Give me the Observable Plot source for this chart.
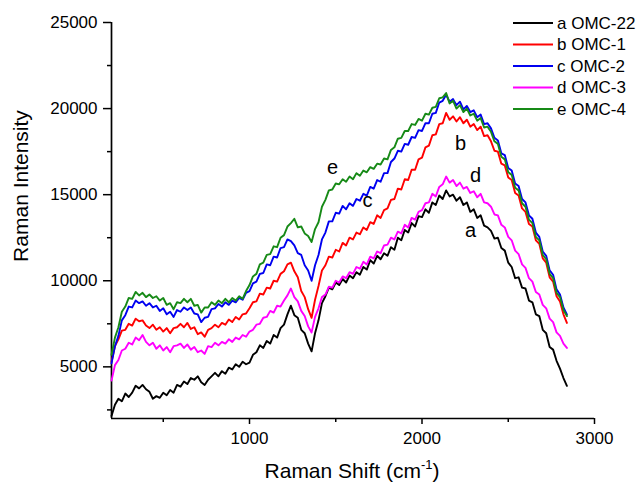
<!DOCTYPE html>
<html>
<head>
<meta charset="utf-8">
<script src="https://cdn.jsdelivr.net/npm/d3@7"></script>
<script src="https://cdn.jsdelivr.net/npm/@observablehq/plot@0.6"></script>
<style>
  html, body { margin: 0; padding: 0; background: #fff; }
  #chart svg { display: block; }
</style>
</head>
<body>
<div id="chart"></div>
<script>
// Raman shift grid (cm^-1)
const shift = [
  200,220,240,260,280,300,320,340,360,380,
  400,420,440,460,480,500,520,540,560,580,
  600,620,640,660,680,700,720,740,760,780,
  800,820,840,860,880,900,920,940,960,980,
  1000,1020,1040,1060,1080,1100,1120,1140,1160,1180,
  1200,1220,1240,1260,1280,1300,1320,1340,1360,1380,
  1400,1420,1440,1460,1480,1500,1520,1540,1560,1580,
  1600,1620,1640,1660,1680,1700,1720,1740,1760,1780,
  1800,1820,1840,1860,1880,1900,1920,1940,1960,1980,
  2000,2020,2040,2060,2080,2100,2120,2140,2160,2180,
  2200,2220,2240,2260,2280,2300,2320,2340,2360,2380,
  2400,2420,2440,2460,2480,2500,2520,2540,2560,2580,
  2600,2620,2640,2660,2680,2700,2720,2740,2760,2780,
  2800,2820,2840];

const omc22 = [
  2150,2800,3150,3000,3450,3250,3500,3900,3750,3950,
  3700,3550,3150,3300,3200,3500,3350,3650,3500,3950,
  3850,4150,4000,4350,4250,4450,4100,3950,4250,4450,
  4650,4450,4750,4600,4950,4850,5150,5000,5300,5150,
  5250,5700,5850,6250,6100,6500,6350,6850,6700,7250,
  7450,8050,8550,8000,7850,7150,6950,6350,5900,6950,
  7700,8700,9100,9600,9500,9900,9750,10100,9900,10300,
  10150,10500,10350,10800,10650,11200,11000,11450,11250,11600,
  11450,11950,11800,12500,12350,12950,12800,13350,13150,13750,
  13700,14150,13950,14550,14400,14950,14750,15250,14900,15000,
  14650,14850,14400,14550,14000,14150,13650,13800,13200,13100,
  12900,12450,12500,11900,11750,11050,10800,10150,10200,9600,
  9550,8850,8750,8050,7950,7150,6950,6150,6000,5350,
  4900,4350,3900];

const omc1 = [
  5300,6200,6600,7100,7150,7500,7400,7800,7650,7700,
  7400,7250,7450,7150,7300,7050,7250,6950,7250,7300,
  7500,7300,7550,7200,7300,6900,7000,6750,7150,7250,
  7450,7300,7550,7450,7750,7600,7900,7750,8050,8100,
  8400,8750,8800,9250,9200,9600,9550,10000,9950,10400,
  10550,10950,11050,10550,10200,9400,9050,8350,7850,8900,
  9700,10600,10900,11400,11350,11800,11700,12200,12050,12500,
  12400,12800,12700,13100,12950,13400,13300,13800,13650,14100,
  14200,14700,14750,15350,15300,15900,15850,16450,16450,17050,
  17150,17750,17850,18450,18500,19100,19150,19750,19350,19550,
  19250,19500,19150,19350,18950,19100,18750,18950,18400,18450,
  18100,17550,17500,16800,16700,16000,15850,15100,14950,14200,
  14000,13300,13150,12350,12150,11300,11050,10200,9950,9100,
  8800,8050,7550];

const omc2 = [
  5200,6200,6800,7700,8000,8500,8450,8850,8700,8800,
  8550,8700,8450,8550,8250,8400,8050,8200,7900,8300,
  8200,8450,8300,8450,8100,8050,7600,7850,7900,8350,
  8400,8650,8500,8750,8600,8850,8750,9000,8900,9300,
  9400,9850,9950,10400,10450,10950,10900,11400,11350,11900,
  11950,12400,12300,12050,11600,11500,10900,10600,10000,10900,
  11500,12400,12800,13450,13450,13950,13900,14350,14150,14500,
  14350,14750,14650,15050,14950,15450,15350,15850,15750,16250,
  16250,16900,17100,17550,17500,17950,17900,18350,18300,18750,
  18700,19150,19150,19700,19750,20350,20450,20800,20400,20550,
  20200,20400,19950,20150,19800,19900,19500,19650,19100,19150,
  18850,18300,18150,17400,17300,16550,16400,15650,15500,14750,
  14550,13800,13600,12800,12550,11700,11450,10600,10350,9500,
  9200,8450,8050];

const omc3 = [
  4200,5100,5400,5950,6050,6400,6300,6700,6550,6850,
  6450,6250,6400,6050,6250,5950,6150,5850,6200,6250,
  6350,6100,6300,6000,6150,5850,5950,5750,6200,6150,
  6400,6250,6450,6350,6600,6450,6700,6600,6850,6750,
  7050,7150,7450,7500,7850,7900,8250,8150,8550,8500,
  8850,9150,9550,9050,8800,8250,7950,7350,7000,7900,
  8400,9050,9200,9650,9600,10000,9900,10250,10150,10500,
  10400,10800,10700,11100,10950,11400,11300,11700,11600,12050,
  12100,12500,12400,12850,12750,13250,13100,13650,13550,14000,
  14100,14500,14550,15050,14900,15450,15600,16050,15700,15850,
  15500,15700,15350,15450,15100,15200,14850,15050,14550,14500,
  14300,13850,13800,13250,13100,12550,12350,11750,11550,10950,
  10750,10150,9950,9350,9200,8600,8400,7800,7600,7000,
  6800,6350,6100];

const omc4 = [
  5700,6700,7300,8200,8500,9000,8950,9350,9150,9300,
  9050,9200,9000,9100,8850,9000,8600,8700,8350,8750,
  8700,8950,8750,8950,8550,8600,8150,8450,8450,8750,
  8600,8850,8700,8950,8750,9000,8850,9100,8950,9400,
  9750,10250,10400,10950,11050,11500,11550,12000,11950,12500,
  12650,13150,13350,13600,13100,13150,12750,12600,12250,13000,
  13400,14300,14700,15250,15300,15650,15600,15900,15750,16050,
  15900,16250,16100,16400,16300,16600,16500,16800,16750,17100,
  17050,17600,17750,18250,18300,18700,18700,19100,19050,19400,
  19300,19700,19650,20050,20100,20600,20650,20900,20300,20450,
  20000,20200,19800,20000,19600,19700,19300,19450,18900,18950,
  18650,18100,17950,17200,17050,16300,16150,15400,15250,14500,
  14300,13550,13350,12550,12350,11500,11250,10400,10150,9300,
  9050,8300,7950];

const seriesNames = ["a OMC-22", "b OMC-1", "c OMC-2", "d OMC-3", "e OMC-4"];
const seriesColors = ["#000000", "#ff0000", "#0000f0", "#ff00ff", "#178a17"];
const seriesValues = [omc22, omc1, omc2, omc3, omc4];

const xTicks = [1000, 2000, 3000];
const xMinorTicks = [500, 1500, 2500];
const yTicks = [5000, 10000, 15000, 20000, 25000];
const yMinorTicks = [2500, 7500, 12500, 17500, 22500];

const letters = ["e", "c", "b", "d", "a"];
const letterX = [1481, 1684, 2223, 2310, 2281];
const letterY = [16570, 14650, 17965, 16105, 12907];

const rows = [];
seriesNames.forEach((name, i) => {
  shift.forEach((s, j) => rows.push({series: name, shift: s, value: seriesValues[i][j]}));
});
const labels = letters.map((t, i) => ({t, x: letterX[i], y: letterY[i]}));

const W = 638, H = 485;
const font = "'Liberation Sans', Arial, sans-serif";
const fmt = d3.format("d");

const svg = Plot.plot({
  width: W,
  height: H,
  marginLeft: 111,
  marginRight: 44,
  marginTop: 22,
  marginBottom: 67,
  style: {fontFamily: font, fontSize: "17px", color: "#000", background: "#fff", overflow: "visible"},
  x: {domain: [200, 3000], axis: null},
  y: {domain: [2000, 25000], axis: null},
  color: {domain: seriesNames, range: seriesColors},
  marks: [
    Plot.axisX({ticks: xTicks, tickFormat: fmt, tickSize: 6, tickPadding: 7, strokeWidth: 1.5, fontSize: 17, label: null}),
    Plot.axisX({ticks: xMinorTicks, tickSize: 4, text: null, strokeWidth: 1.5, label: null}),
    Plot.axisY({ticks: yTicks, tickFormat: fmt, tickSize: 8, tickPadding: 6, strokeWidth: 1.5, fontSize: 17, label: null}),
    Plot.axisY({ticks: yMinorTicks, tickSize: 4, text: null, strokeWidth: 1.5, label: null}),
    Plot.ruleX([200], {y1: 2000, y2: 25000, strokeWidth: 1.7}),
    Plot.ruleY([2000], {x1: 200, x2: 3000, strokeWidth: 1.7}),
    Plot.lineY(rows, {x: "shift", y: "value", z: "series", stroke: "series", strokeWidth: 1.9}),
    Plot.text(labels, {x: "x", y: "y", text: "t", fontSize: 20, fill: "#000"})
  ]
});

// Axis titles
const sel = d3.select(svg);
sel.append("text")
  .attr("transform", "translate(28,186) rotate(-90)")
  .attr("text-anchor", "middle")
  .attr("font-size", 21)
  .attr("font-family", font)
  .attr("fill", "#000")
  .text("Raman Intensity");

const xt = sel.append("text")
  .attr("x", 352).attr("y", 478)
  .attr("text-anchor", "middle")
  .attr("font-size", 21)
  .attr("font-family", font)
  .attr("fill", "#000");
xt.append("tspan").text("Raman Shift (cm");
xt.append("tspan").attr("font-size", 13).attr("dy", -9).text("-1");
xt.append("tspan").attr("dy", 9).text(")");

// Legend
const lg = sel.append("g").attr("text-anchor", "start");
seriesNames.forEach((name, i) => {
  const yy = 23 + i * 21.5;
  lg.append("line").attr("x1", 513).attr("x2", 553).attr("y1", yy).attr("y2", yy)
    .attr("stroke", seriesColors[i]).attr("stroke-width", 2);
  lg.append("text").attr("x", 557).attr("y", yy).attr("dy", "0.35em")
    .attr("text-anchor", "start")
    .attr("font-size", 17).attr("font-family", font).attr("fill", "#000").text(name);
});

document.getElementById("chart").appendChild(svg);
</script>
</body>
</html>
